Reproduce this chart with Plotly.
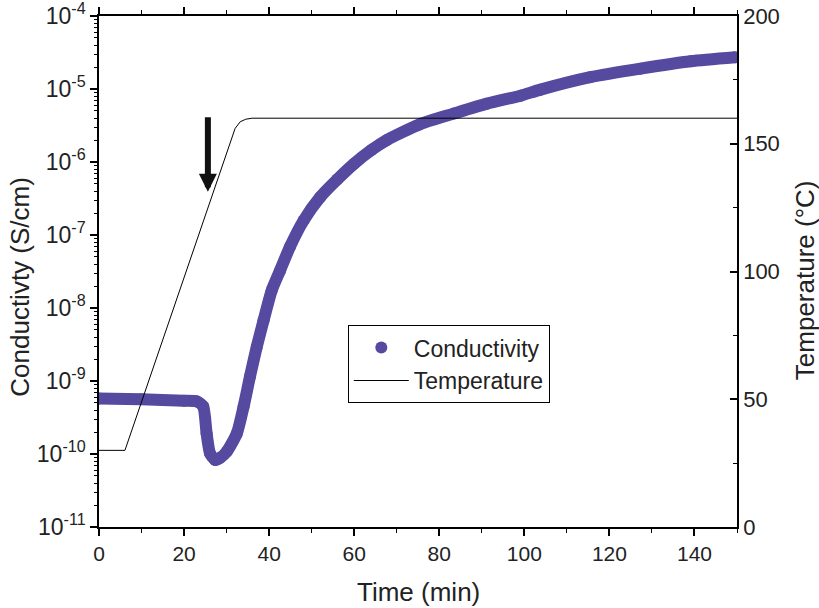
import plotly.graph_objects as go
import math

# Conductivity data (time in min, conductivity in S/cm)
time_cond = [0, 10, 20, 23, 24.5, 25.3, 26.1, 27.3, 28.5, 30.0, 32.4, 34.0, 35.5,
             37.1, 38.7, 40.6, 42.6, 44.9, 48.1, 52, 56, 60, 64, 67.7, 75.5, 83.4,
             91.2, 99.1, 103.8, 115.5, 127.3, 139.1, 149.6]
conductivity = [5.75e-10, 5.62e-10, 5.37e-10, 5.25e-10, 4.47e-10, 1.91e-10, 1.02e-10,
                8.3e-11, 8.9e-11, 1.07e-10, 1.91e-10, 4.47e-10, 1.15e-9, 2.95e-9,
                6.8e-9, 1.74e-8, 3.3e-8, 6.9e-8, 1.58e-7, 3.3e-7, 5.75e-7, 9.5e-7,
                1.45e-6, 2.0e-6, 3.3e-6, 4.6e-6, 6.3e-6, 8.1e-6, 9.8e-6, 1.45e-5,
                1.9e-5, 2.4e-5, 2.72e-5]

# Temperature data (time in min, temperature in °C)
time_temp = [0, 6.1, 32.0, 33.2, 34.5, 36, 150]
temperature = [30, 30, 156, 158.6, 159.6, 160, 160]

# Axis ticks
cond_decades = [1e-11, 1e-10, 1e-9, 1e-8, 1e-7, 1e-6, 1e-5, 1e-4]
cond_decade_labels = ["10<sup>-11</sup>", "10<sup>-10</sup>", "10<sup>-9</sup>",
                      "10<sup>-8</sup>", "10<sup>-7</sup>", "10<sup>-6</sup>",
                      "10<sup>-5</sup>", "10<sup>-4</sup>"]
minor_mult = [2, 3, 4, 5, 6, 7, 8, 9]

# Arrow marker position
arrow_time = 25.6
arrow_cond = 3.9e-7

purple = "#5549A0"
font_family = "Liberation Sans, Arial, sans-serif"
txt = "#222222"

minor_vals = [d * m for d in cond_decades[:-1] for m in minor_mult]
log_range = [-11.00001, -3.99999]

fig = go.Figure()
fig.add_trace(go.Scatter(
    x=time_cond, y=conductivity, mode="lines+markers",
    line=dict(color=purple, width=12, shape="spline", smoothing=0.6),
    marker=dict(color=purple, size=12),
    showlegend=False, yaxis="y"))
fig.add_trace(go.Scatter(
    x=[None], y=[None], mode="markers", name="Conductivity",
    marker=dict(color=purple, size=12), yaxis="y"))
fig.add_trace(go.Scatter(
    x=time_temp, y=temperature, mode="lines", name="Temperature",
    line=dict(color="black", width=1), yaxis="y2"))
# invisible trace carrying the minor-tick axis
fig.add_trace(go.Scatter(
    x=[None], y=[None], showlegend=False, yaxis="y3", hoverinfo="skip"))

fig.add_annotation(
    x=arrow_time, y=math.log10(arrow_cond), xref="x", yref="y",
    ax=0, ay=-76, axref="pixel", ayref="pixel",
    showarrow=True, arrowhead=2, arrowsize=0.6, arrowwidth=6,
    arrowcolor="#111111", text="", standoff=0)

# axis titles
title_font = dict(family=font_family, size=26, color=txt)
fig.add_annotation(text="Time (min)", xref="paper", yref="paper",
                   x=0.5, y=-0.127, showarrow=False, font=title_font,
                   xanchor="center", yanchor="middle")
fig.add_annotation(text="Conductivty (S/cm)", xref="paper", yref="paper",
                   x=-0.124, y=0.47, showarrow=False, font=title_font,
                   textangle=-90, xanchor="center", yanchor="middle")
fig.add_annotation(text="Temperature (°C)", xref="paper", yref="paper",
                   x=1.1066, y=0.483, showarrow=False, font=title_font,
                   textangle=-90, xanchor="center", yanchor="middle")

fig.update_layout(
    width=819, height=608,
    margin=dict(l=99, r=82, t=16, b=81),
    plot_bgcolor="white", paper_bgcolor="white",
    font=dict(family=font_family, size=21, color=txt),
    showlegend=True,
    legend=dict(x=0.39, y=0.395, xanchor="left", yanchor="top",
                bordercolor="black", borderwidth=1, bgcolor="white",
                font=dict(size=23, color=txt), tracegroupgap=0,
                itemwidth=55),
    xaxis=dict(
        range=[0, 150], showline=True, linecolor="black", linewidth=1.5,
        mirror="ticks", ticks="outside", ticklen=7, tickwidth=1.5,
        tickcolor="black", dtick=20, tick0=0, showgrid=False, zeroline=False,
        automargin=False, tickfont=dict(size=21),
        minor=dict(dtick=10, ticks="outside", ticklen=4, tickwidth=1.2,
                   tickcolor="black", showgrid=False)),
    yaxis=dict(
        type="log", range=log_range, showline=True, linecolor="black",
        linewidth=1.5, ticks="outside", ticklen=7, tickwidth=1.5,
        tickcolor="black", tickmode="array", tickvals=cond_decades,
        ticktext=cond_decade_labels, showgrid=False, zeroline=False,
        automargin=False, tickfont=dict(size=23), ticklabeloverflow="allow"),
    yaxis3=dict(
        type="log", range=log_range, overlaying="y", side="left",
        showline=False, ticks="outside", ticklen=4, tickwidth=1.2,
        tickcolor="black", tickmode="array", tickvals=minor_vals,
        showticklabels=False, showgrid=False, zeroline=False,
        automargin=False),
    yaxis2=dict(
        overlaying="y", side="right", range=[0, 200], showline=True,
        linecolor="black", linewidth=1.5, ticks="inside", ticklen=7,
        tickwidth=1.5, tickcolor="black", dtick=50, showgrid=False,
        zeroline=False, automargin=False, tickfont=dict(size=22),
        ticklabeloverflow="allow",
        minor=dict(dtick=25, ticks="inside", ticklen=4, tickwidth=1.2,
                   tickcolor="black", showgrid=False)),
)

fig.write_html("out.html",
               config={"displayModeBar": False},
               post_script="document.body.style.margin='0px';"
                           "document.body.style.overflow='hidden';")
